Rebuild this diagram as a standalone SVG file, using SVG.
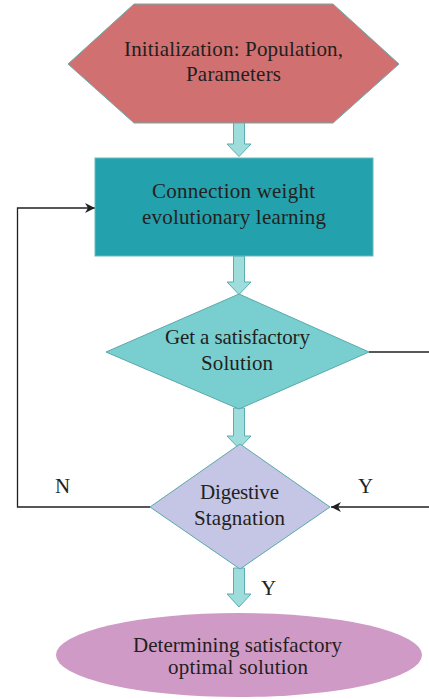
<svg xmlns="http://www.w3.org/2000/svg" width="429" height="699" viewBox="0 0 429 699">
<defs>
<style>
.t{font-family:"Liberation Serif","Times New Roman",serif;font-size:21px;fill:#231f20;text-anchor:middle}
.lbl{font-family:"Liberation Serif","Times New Roman",serif;font-size:21px;fill:#231f20}
.blk{fill:#9fdcdc;stroke:#5aaeb0;stroke-width:1}
.ln{fill:none;stroke:#231f20;stroke-width:1.3}
</style>
<marker id="ah" viewBox="0 0 10 10" refX="10" refY="5" markerWidth="10" markerHeight="10" markerUnits="userSpaceOnUse" orient="auto">
<path d="M0,0 L10,5 L0,10 L3,5 Z" fill="#231f20"/>
</marker>
</defs>
<rect width="429" height="699" fill="#ffffff"/>
<g id="connectors">
<path class="blk" d="M233.5,122 H244.5 V144 H251 L239,156.5 L227,144 H233.5 Z"/>
<path class="blk" d="M233.5,256 H244.5 V282 H251 L239,294.5 L227,282 H233.5 Z"/>
<path class="blk" d="M233.5,408 H244.5 V436 H251 L239,448.5 L227,436 H233.5 Z"/>
<path class="blk" d="M233.5,568 H244.5 V594 H251 L239,607 L227,594 H233.5 Z"/>
<path class="ln" d="M369,352 H429"/>
<path class="ln" d="M429,507 H331" marker-end="url(#ah)"/>
<path class="ln" d="M150,507 H17.5 V208 H95" marker-end="url(#ah)"/>
<text class="lbl" x="55" y="493">N</text>
<text class="lbl" x="358" y="493">Y</text>
<text class="lbl" x="261" y="595">Y</text>
</g>
<g id="init">
<polygon points="134,4 333,4 399,64 333,123 134,123 68,64" fill="#d07070" stroke="#6aacad" stroke-width="1"/>
<text class="t" x="233.5" y="56" textLength="219">Initialization: Population,</text>
<text class="t" x="233.5" y="81" textLength="95">Parameters</text>
</g>
<g id="learning">
<rect x="95" y="158" width="278" height="98" fill="#23a2ad" stroke="#6ab9bd" stroke-width="1"/>
<text class="t" x="233.5" y="198" textLength="163">Connection weight</text>
<text class="t" x="234" y="224" textLength="184">evolutionary learning</text>
</g>
<g id="satisfactory">
<polygon points="239,294 369,352 239,409 106,352" fill="#79cfcf" stroke="#5aa8aa" stroke-width="1"/>
<text class="t" x="237.5" y="344" textLength="145">Get a satisfactory</text>
<text class="t" x="237" y="370" textLength="72">Solution</text>
</g>
<g id="stagnation">
<polygon points="240,444 330,507 240,569 150,507" fill="#c5c5e5" stroke="#5aa8aa" stroke-width="1"/>
<text class="t" x="239.5" y="499" textLength="79">Digestive</text>
<text class="t" x="239.5" y="525" textLength="91">Stagnation</text>
</g>
<g id="result">
<ellipse cx="239" cy="655" rx="183" ry="42" fill="#d09ac6"/>
<text class="t" x="237.5" y="652" textLength="209">Determining satisfactory</text>
<text class="t" x="238" y="674" textLength="140">optimal solution</text>
</g>
</svg>
